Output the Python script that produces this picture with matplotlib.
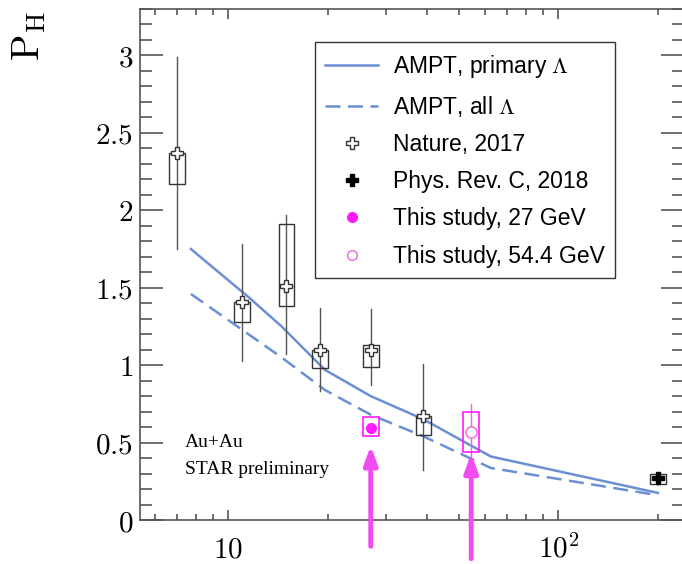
import matplotlib
matplotlib.use("Agg")
from matplotlib import pyplot as plt
from matplotlib.patches import Rectangle
from matplotlib.lines import Line2D
from matplotlib.ticker import FixedLocator, NullFormatter

plt.rcParams["mathtext.fontset"] = "cm"

# AMPT model curves
amptE = [7.7, 11.5, 14.5, 19.6, 27, 39, 62.4, 200]
amptPrimary = [1.75, 1.44, 1.25, 0.97, 0.80, 0.65, 0.41, 0.175]
amptAll = [1.46, 1.20, 1.05, 0.84, 0.68, 0.54, 0.336, 0.16]

# Nature 2017 (as placed in the picture)
natE = [7.0, 11.0, 15.0, 19.0, 27.0, 39.0]
natP = [2.37, 1.41, 1.51, 1.10, 1.10, 0.67]
natErrLo = [1.75, 1.03, 1.07, 0.83, 0.87, 0.32]
natErrHi = [2.99, 1.78, 1.97, 1.37, 1.36, 1.01]
natSysLo = [2.17, 1.28, 1.38, 0.98, 0.99, 0.55]
natSysHi = [2.37, 1.41, 1.91, 1.10, 1.13, 0.67]

# Phys. Rev. C 2018
prcE = [200]
prcP = [0.27]
prcSysLo = [0.23]
prcSysHi = [0.30]

# This study
e27 = [27]
p27 = [0.595]
sys27Lo = [0.54]
sys27Hi = [0.665]
e54 = [54.4]
p54 = [0.57]
err54Lo = [0.40]
err54Hi = [0.75]
sys54Lo = [0.44]
sys54Hi = [0.70]

blue = "#6b8fd3"
mag = "#ff1aff"
pink = "#ee66dd"
arrowCol = "#f04cf0"

fig = plt.figure(figsize=(6.82, 5.64), dpi=100)
ax = fig.add_axes([140 / 682, 1 - 520 / 564, 544 / 682, 511 / 564])
ax.set_xscale("log")
ax.set_xlim(5.4, 240)
ax.set_ylim(0, 3.3)

def box(x, lo, hi, col, lw=1.0):
    w = 10 ** 0.024
    ax.add_patch(Rectangle((x / w, lo), x * w - x / w, hi - lo, fill=False,
                           edgecolor=col, linewidth=lw, zorder=3))

# model
ax.plot(amptE, amptPrimary, color=blue, lw=1.8, zorder=2)
ax.plot(amptE, amptAll, color=blue, lw=1.8, dashes=(6, 3), zorder=2)

# Nature
for i in range(len(natE)):
    ax.plot([natE[i], natE[i]], [natErrLo[i], natErrHi[i]], color="#555555", lw=1.0, zorder=3)
    box(natE[i], natSysLo[i], natSysHi[i], "#333333")
ax.plot(natE, natP, ls="none", marker="P", markersize=9, markerfacecolor="white",
        markeredgecolor="#333333", markeredgewidth=1.0, zorder=4)

# PRC
for i in range(len(prcE)):
    box(prcE[i], prcSysLo[i], prcSysHi[i], "#333333")
ax.plot(prcE, prcP, ls="none", marker="P", markersize=8, color="black", zorder=4)

# this study
box(e27[0], sys27Lo[0], sys27Hi[0], mag, 1.2)
ax.plot(e27, p27, ls="none", marker="o", markersize=7, color=mag, zorder=4)
ax.plot([e54[0], e54[0]], [err54Lo[0], err54Hi[0]], color=pink, lw=1.0, zorder=3)
box(e54[0], sys54Lo[0], sys54Hi[0], mag, 1.2)
ax.plot(e54, p54, ls="none", marker="o", markersize=8, markerfacecolor="white",
        markeredgecolor=pink, markeredgewidth=1.0, zorder=4)

# arrows
ax.annotate("", xy=(e27[0], 0.48), xytext=(e27[0], -0.17), annotation_clip=False,
            arrowprops=dict(arrowstyle="-|>,head_length=1.1,head_width=0.4",
                            color=arrowCol, lw=3.5, shrinkA=0, shrinkB=0))
ax.annotate("", xy=(e54[0], 0.43), xytext=(e54[0], -0.25), annotation_clip=False,
            arrowprops=dict(arrowstyle="-|>,head_length=1.1,head_width=0.4",
                            color=arrowCol, lw=3.5, shrinkA=0, shrinkB=0))

# axes styling
for s in ax.spines.values():
    s.set_color("#555555")
    s.set_linewidth(1.2)
ax.xaxis.set_major_locator(FixedLocator([10, 100]))
ax.xaxis.set_minor_locator(FixedLocator([6, 7, 8, 9, 20, 30, 40, 50, 60, 70, 80, 90, 200]))
ax.xaxis.set_minor_formatter(NullFormatter())
ax.set_xticklabels([r"$10$", r"$10^2$"])
yt = [0, 0.5, 1, 1.5, 2, 2.5, 3]
ax.yaxis.set_major_locator(FixedLocator(yt))
ax.yaxis.set_minor_locator(FixedLocator([i / 10 for i in range(34)]))
ax.set_yticklabels(["$%g$" % v for v in yt])
ax.tick_params(axis="both", which="both", direction="in", top=True, right=True,
               color="#555555", labelsize=21)
ax.tick_params(axis="y", which="major", length=16.5, width=1.2, pad=5)
ax.tick_params(axis="y", which="minor", length=8.5, width=1.2)
ax.tick_params(axis="x", which="major", length=7.5, width=1.2, pad=27)
ax.tick_params(axis="x", which="minor", length=4, width=1.2)
for t in ax.get_xticklabels():
    t.set_va("baseline")

fig.text(29 / 682, 1 - 36 / 564, r"$\mathrm{P_H}$", rotation=90, fontsize=28,
         ha="center", va="center")

ax.text(0.083, 0.152, "Au+Au", transform=ax.transAxes, fontsize=14,
        family="Liberation Serif", va="center")
ax.text(0.083, 0.098, "STAR preliminary", transform=ax.transAxes, fontsize=14,
        family="Liberation Serif", va="center")

handles = [
    Line2D([], [], color=blue, lw=1.8),
    Line2D([], [], color=blue, lw=1.8, dashes=(6, 3)),
    Line2D([], [], ls="none", marker="P", markersize=8, markerfacecolor="white",
           markeredgecolor="#333333"),
    Line2D([], [], ls="none", marker="P", markersize=8, color="black"),
    Line2D([], [], ls="none", marker="o", markersize=7, color=mag),
    Line2D([], [], ls="none", marker="o", markersize=7, markerfacecolor="white",
           markeredgecolor=pink),
]
labels = [r"AMPT, primary $\Lambda$", r"AMPT, all $\Lambda$", "Nature, 2017",
          "Phys. Rev. C, 2018", "This study, 27 GeV", "This study, 54.4 GeV"]
leg = ax.legend(handles, labels, loc="upper left", bbox_to_anchor=(0.3217, 0.935),
                borderaxespad=0, fancybox=False, framealpha=1, edgecolor="#333333",
                prop={"family": "Liberation Sans", "size": 16.5}, handlelength=2.3,
                handletextpad=0.65, labelspacing=0.62, borderpad=0.45)
leg.get_frame().set_linewidth(1.0)

plt.savefig("out.png", dpi=100)
